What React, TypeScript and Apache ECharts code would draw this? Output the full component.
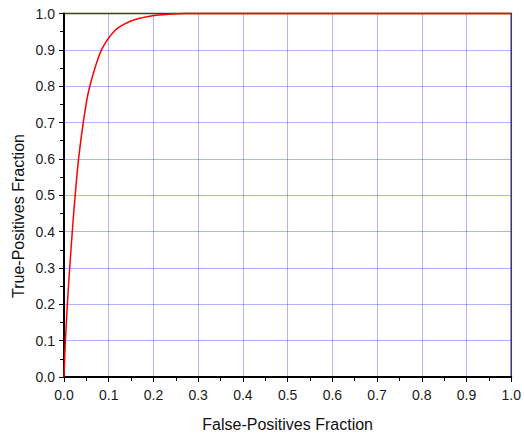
import React, { useEffect, useRef } from "react";
import * as echarts from "echarts";

const fpr = [0, 0.003, 0.0074, 0.0126, 0.019, 0.025, 0.0326, 0.043, 0.053, 0.061, 0.071, 0.082, 0.093, 0.102, 0.113, 0.124, 0.147, 0.173, 0.198, 0.236, 0.27, 0.5, 1.0];
const tpr = [0, 0.096, 0.197, 0.297, 0.407, 0.5, 0.6, 0.7, 0.775, 0.815, 0.857, 0.895, 0.92, 0.936, 0.952, 0.963, 0.978, 0.988, 0.994, 0.998, 1.0, 1.0, 1.0];
const xTitle = "False-Positives Fraction";
const yTitle = "True-Positives Fraction";

export default function App() {
  const ref = useRef<HTMLDivElement>(null);
  useEffect(() => {
    const chart = echarts.init(ref.current!, null, { renderer: "svg" });
    const font = "'Liberation Sans', Arial, sans-serif";
    const axisCommon = {
      type: "value" as const,
      min: 0,
      max: 1,
      interval: 0.1,
      axisLine: { show: true, onZero: false, lineStyle: { color: "#000", width: 2 } },
      axisTick: { show: true, inside: false, length: 5, lineStyle: { color: "#000", width: 1 } },
      minorTick: { show: true, splitNumber: 2, length: 4, lineStyle: { color: "#000", width: 1 } },
      splitLine: { show: true, lineStyle: { color: "rgba(60,60,255,0.4)", width: 1 } },
      axisLabel: {
        color: "#1a1a1a",
        fontFamily: font,
        fontSize: 14,
        formatter: (v: number) => v.toFixed(1),
      },
    };
    chart.setOption({
      animation: false,
      backgroundColor: "#fff",
      grid: {
        left: 64,
        right: 11,
        top: 13.5,
        bottom: 58.5,
        show: true,
        borderColor: "#333",
        borderWidth: 1.5,
        backgroundColor: "transparent",
      },
      xAxis: {
        ...axisCommon,
        axisLabel: { ...axisCommon.axisLabel, margin: 11 },
        name: xTitle,
        nameLocation: "middle",
        nameGap: 39,
        nameTextStyle: { color: "#111", fontFamily: font, fontSize: 16 },
      },
      yAxis: {
        ...axisCommon,
        axisLabel: { ...axisCommon.axisLabel, margin: 9 },
      },
      graphic: [
        {
          type: "text",
          x: 18,
          y: 216,
          rotation: Math.PI / 2,
          style: {
            text: yTitle,
            fill: "#111",
            font: `16px ${font}`,
            textAlign: "center",
            textVerticalAlign: "middle",
          },
        },
      ],
      series: [
        {
          type: "line",
          data: fpr.map((x, i) => [x, tpr[i]]),
          smooth: 0.4,
          showSymbol: false,
          clip: false,
          lineStyle: { color: "#ff0000", width: 1.5 },
        },
      ],
    });
    return () => chart.dispose();
  }, []);
  return (
    <div
      ref={ref}
      style={{ position: "fixed", left: 0, top: 0, width: 524, height: 437 }}
    />
  );
}
